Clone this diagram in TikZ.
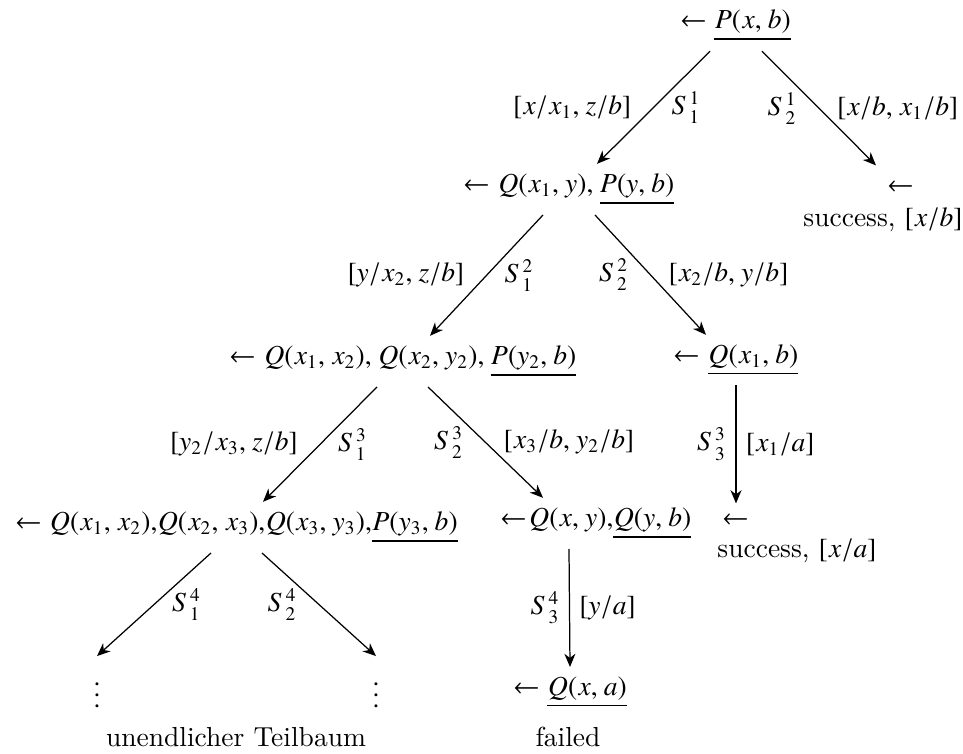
\documentclass[tikz,border=0pt]{standalone}
\usepackage{txfonts}
\usetikzlibrary{arrows.meta,positioning,calc}
\thinmuskip=4mu
\tikzset{
  goal/.style={anchor=base, inner sep=3.3pt},
  txt/.style={anchor=base, inner sep=0pt},
  fl/.style={-{Stealth[length=4.8pt,width=4pt,inset=1.5pt]}, line width=0.45pt},
}
\begin{document}
\begin{tikzpicture}[x=0.3636pt, y=-0.3636pt]
\useasboundingbox (0,0) rectangle (963,754);
% goals
\node[goal] (g0) at (735.5,29) {$\leftarrow \underline{P(x,b)}$};
\node[goal] (g1) at (569,192) {$\leftarrow Q(x_1,y), \underline{P(y,b)}$};
\node[goal] (ok1) at (901,194) {$\leftarrow$};
\node[txt] (ok1t) at (883,227) {success, $[x/b]$};
\node[goal] (g2) at (403,364) {$\leftarrow Q(x_1,x_2), Q(x_2,y_2), \underline{P(y_2,b)}$};
\node[goal] (g3) at (736,363) {$\leftarrow \underline{Q(x_1,b)}$};
\node[goal] (g4) at (236.5,530) {$\leftarrow Q(x_1,x_2){,}Q(x_2,x_3){,}Q(x_3,y_3){,}\underline{P(y_3,b)}$};
\node[goal] (g5) at (596,526) {$\leftarrow\!Q(x,y){,}\underline{Q(y,b)}$};
\node[goal] (ok2) at (736,526) {$\leftarrow$};
\node[txt] (ok2t) at (797,557) {success, $[x/a]$};
\node[goal] (g6) at (570,695) {$\leftarrow \underline{Q(x,a)}$};
\node[goal] (inf1) at (97,707) {$\vdots$};
\node[goal] (inf2) at (376,707) {$\vdots$};
\node[txt] (inft) at (236,746) {unendlicher Teilbaum};
\node[txt] (fail) at (568,746) {failed};
% resolution steps
\draw[fl] ($(g0.south)+(-25.5,0)$) -- node[left=4.5pt]{$[x/x_1, z/b]$} node[right=3pt]{${S}_1^1$} ($(g1.north)+(28,0)$);
\draw[fl] ($(g0.south)+(26.5,0)$) -- node[left=4.5pt]{${S}_2^1$} node[right=3pt]{$[x/b, x_1/b]$} ($(ok1.north)+(-25,-6)$);
\draw[fl] ($(g1.south)+(-26,0)$) -- node[left=4.5pt]{$[y/x_2, z/b]$} node[right=3pt]{${S}_1^2$} ($(g2.north)+(27,0)$);
\draw[fl] ($(g1.south)+(26,0)$) -- node[left=4.5pt]{${S}_2^2$} node[right=3pt]{$[x_2/b, y/b]$} ($(g3.north)+(-30,0)$);
\draw[fl] ($(g2.south)+(-26,0)$) -- node[left=4.5pt]{$[y_2/x_3, z/b]$} node[right=3pt]{${S}_1^3$} ($(g4.north)+(26.5,0)$);
\draw[fl] ($(g2.south)+(25,0)$) -- node[left=4.5pt]{${S}_2^3$} node[right=3pt]{$[x_3/b, y_2/b]$} ($(g5.north)+(-53,0)$);
\draw[fl] (g3.south) -- node[left]{${S}_3^3$} node[right]{$[x_1/a]$} (ok2.north);
\draw[fl] ($(g4.south)+(-25.5,0)$) -- node[right=3pt]{${S}_1^4$} (inf1.north);
\draw[fl] ($(g4.south)+(25.5,0)$) -- node[left=4.5pt]{${S}_2^4$} (inf2.north);
\draw[fl] ($(g5.south)+(-27,0)$) -- node[left]{${S}_3^4$} node[right]{$[y/a]$} (g6.north);
\end{tikzpicture}
\end{document}
